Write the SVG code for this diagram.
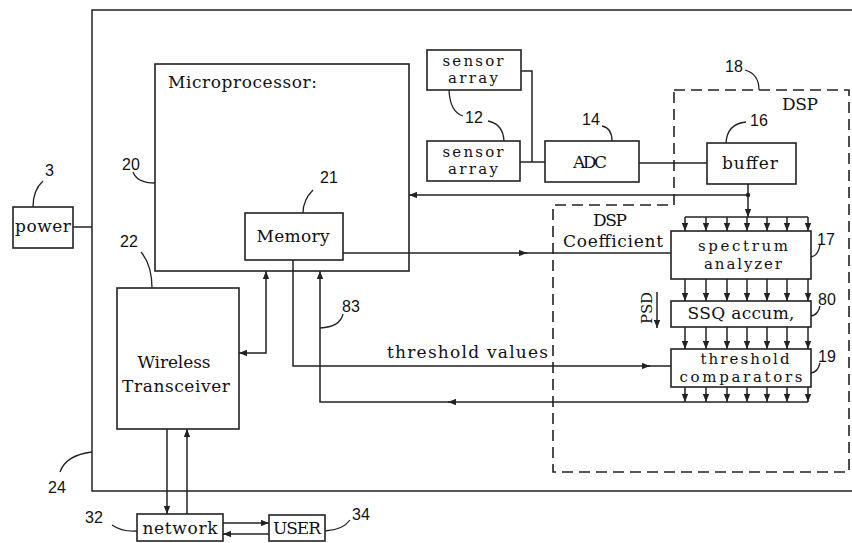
<svg xmlns="http://www.w3.org/2000/svg" width="852" height="543" viewBox="0 0 852 543">
<style>
.bx{fill:#fff;stroke:#222;stroke-width:1.6}
.ln{fill:none;stroke:#222;stroke-width:1.5}
.ld{fill:none;stroke:#222;stroke-width:1.3}
.dash{fill:none;stroke:#222;stroke-width:1.6;stroke-dasharray:11,6}
.t{font-family:"DejaVu Serif","Liberation Serif",serif;font-size:17px;fill:#111}
.s{font-size:15px}
.m{text-anchor:middle}
.n{font-family:"Liberation Sans",sans-serif;font-size:16px;fill:#111}
</style>
<defs>
<marker id="ah" viewBox="0 0 10 8" refX="10" refY="4" markerWidth="8" markerHeight="6.5" markerUnits="userSpaceOnUse" orient="auto-start-reverse">
<path d="M0,0 L10,4 L0,8 Z" fill="#222"/>
</marker>
</defs>
<g id="enclosure-24">
<path class="ln" d="M852,10 H92 V491 H852"/>
<text class="n" x="48" y="493">24</text>
<path class="ld" d="M60,472 Q66,455 92,452"/>
</g>
<g id="dsp-18">
<polygon class="dash" points="674,90 849,90 849,472 553,472 553,205 674,205"/>
<text class="n" x="725" y="72">18</text>
<path class="ld" d="M745,70 Q759,74 759,90"/>
<text class="t" x="782" y="110" textLength="36">DSP</text>
<text class="t" x="593" y="226" textLength="34">DSP</text>
<text class="t" x="563" y="247" textLength="100">Coefficient</text>
</g>
<g id="power">
<rect class="bx" x="13" y="207" width="60" height="41"/>
<text class="t m" x="43" y="232" textLength="56">power</text>
<text class="n" x="45" y="176">3</text>
<path class="ld" d="M43,181 Q33,190 33,207"/>
</g>
<g id="microprocessor">
<rect class="bx" x="155" y="64" width="254" height="207"/>
<text class="t" x="168" y="88" textLength="149">Microprocessor:</text>
<text class="n" x="122" y="170">20</text>
<path class="ld" d="M133,172 Q137,183 155,183"/>
</g>
<g id="memory">
<rect class="bx" x="245" y="213" width="98" height="47"/>
<text class="t m" x="293" y="242" textLength="73">Memory</text>
<text class="n" x="320" y="183">21</text>
<path class="ld" d="M313,190 Q303,200 303,213"/>
</g>
<g id="sensor-array-1">
<rect class="bx" x="427" y="50" width="94" height="40"/>
<text class="t s m" x="473" y="66" textLength="61">sensor</text>
<text class="t s m" x="473" y="83" textLength="50">array</text>
</g>
<g id="sensor-array-2">
<rect class="bx" x="427" y="141" width="93" height="40"/>
<text class="t s m" x="473" y="157" textLength="61">sensor</text>
<text class="t s m" x="473" y="174" textLength="50">array</text>
<text class="n" x="465" y="123">12</text>
<path class="ld" d="M449,90 Q450,112 463,116"/>
<path class="ld" d="M488,121 Q503,124 504,141"/>
</g>
<g id="adc">
<rect class="bx" x="545" y="141" width="94" height="41"/>
<text class="t m" x="590" y="168" textLength="34">ADC</text>
<text class="n" x="582" y="125">14</text>
<path class="ld" d="M602,126 Q612,128 612,141"/>
</g>
<g id="buffer">
<rect class="bx" x="707" y="143" width="89" height="41"/>
<text class="t m" x="750" y="169" textLength="56">buffer</text>
<text class="n" x="750" y="126">16</text>
<path class="ld" d="M746,122 Q727,124 726,143"/>
</g>
<g id="spectrum-analyzer">
<rect class="bx" x="671" y="231" width="140" height="48"/>
<text class="t s m" x="743" y="251" textLength="90">spectrum</text>
<text class="t s m" x="743" y="269" textLength="78">analyzer</text>
<text class="n" x="817" y="245">17</text>
<path class="ld" d="M820,245 Q818,256 811,257"/>
</g>
<g id="ssq-accum">
<rect class="bx" x="671" y="301" width="140" height="26"/>
<text class="t m" x="741" y="319" textLength="107">SSQ accum,</text>
<text class="n" x="818" y="305">80</text>
<path class="ld" d="M820,306 Q818,315 811,316"/>
</g>
<g id="threshold-comparators">
<rect class="bx" x="671" y="349" width="140" height="38"/>
<text class="t s m" x="745" y="364" textLength="89">threshold</text>
<text class="t s m" x="741" y="382" textLength="123">comparators</text>
<text class="n" x="818" y="362">19</text>
<path class="ld" d="M820,363 Q818,372 811,373"/>
</g>
<g id="wireless-transceiver">
<rect class="bx" x="117" y="288" width="122" height="141"/>
<text class="t m" x="174" y="368" textLength="73">Wireless</text>
<text class="t m" x="176" y="392" textLength="108">Transceiver</text>
<text class="n" x="120" y="247">22</text>
<path class="ld" d="M141,252 Q152,265 152,288"/>
</g>
<g id="network">
<rect class="bx" x="137" y="514" width="86" height="27"/>
<text class="t m" x="180" y="534" textLength="75">network</text>
<text class="n" x="85" y="523">32</text>
<path class="ld" d="M112,525 Q122,532 137,531"/>
</g>
<g id="user">
<rect class="bx" x="269" y="515" width="56" height="26"/>
<text class="t m" x="297" y="534" textLength="48">USER</text>
<text class="n" x="352" y="520">34</text>
<path class="ld" d="M325,531 Q343,530 350,520"/>
</g>
<g id="connectors">
<path class="ln" d="M73,227 H92"/>
<path class="ln" d="M521,71 H532 V162"/>
<path class="ln" d="M520,162 H545"/>
<path class="ln" d="M639,163 H707"/>
<path class="ln" d="M748,195 H409" marker-end="url(#ah)"/>
<circle cx="748" cy="195" r="2.2" fill="#222"/>
<path class="ln" d="M748,184 V217" marker-end="url(#ah)"/>
<path class="ln" d="M685,217 H808"/>
<g class="ln" marker-end="url(#ah)">
<path d="M685,217 V231"/><path d="M706,217 V231"/><path d="M727,217 V231"/><path d="M747,217 V231"/><path d="M767,217 V231"/><path d="M787,217 V231"/><path d="M808,217 V231"/>
<path d="M685,279 V301"/><path d="M706,279 V301"/><path d="M727,279 V301"/><path d="M747,279 V301"/><path d="M767,279 V301"/><path d="M787,279 V301"/><path d="M808,279 V301"/>
<path d="M685,327 V349"/><path d="M706,327 V349"/><path d="M727,327 V349"/><path d="M747,327 V349"/><path d="M767,327 V349"/><path d="M787,327 V349"/><path d="M808,327 V349"/>
<path d="M685,387 V402"/><path d="M706,387 V402"/><path d="M727,387 V402"/><path d="M747,387 V402"/><path d="M767,387 V402"/><path d="M787,387 V402"/><path d="M808,387 V402"/>
</g>
<path class="ln" d="M808,402 H448" marker-end="url(#ah)"/>
<path class="ln" d="M449,402 H320 V271" marker-end="url(#ah)"/>
<text class="n" x="342" y="312">83</text>
<path class="ld" d="M343,314 Q340,327 320,328"/>
<path class="ln" d="M343,253 H527" marker-end="url(#ah)"/>
<path class="ln" d="M525,253 H671"/>
<path class="ln" d="M293,260 V366 H650" marker-end="url(#ah)"/>
<path class="ln" d="M648,366 H671"/>
<text class="t" x="387" y="358" textLength="161">threshold values</text>
<path class="ln" d="M266,271 V353 H239" marker-start="url(#ah)" marker-end="url(#ah)"/>
<path class="ln" d="M167,429 V514" marker-end="url(#ah)"/>
<path class="ln" d="M187,514 V429" marker-end="url(#ah)"/>
<path class="ln" d="M223,523 H269" marker-end="url(#ah)"/>
<path class="ln" d="M269,534 H223" marker-end="url(#ah)"/>
<path class="ln" d="M657,292 V328" marker-end="url(#ah)"/>
<text class="t s" transform="translate(652,324) rotate(-90)" textLength="32">PSD</text>
</g>
</svg>
